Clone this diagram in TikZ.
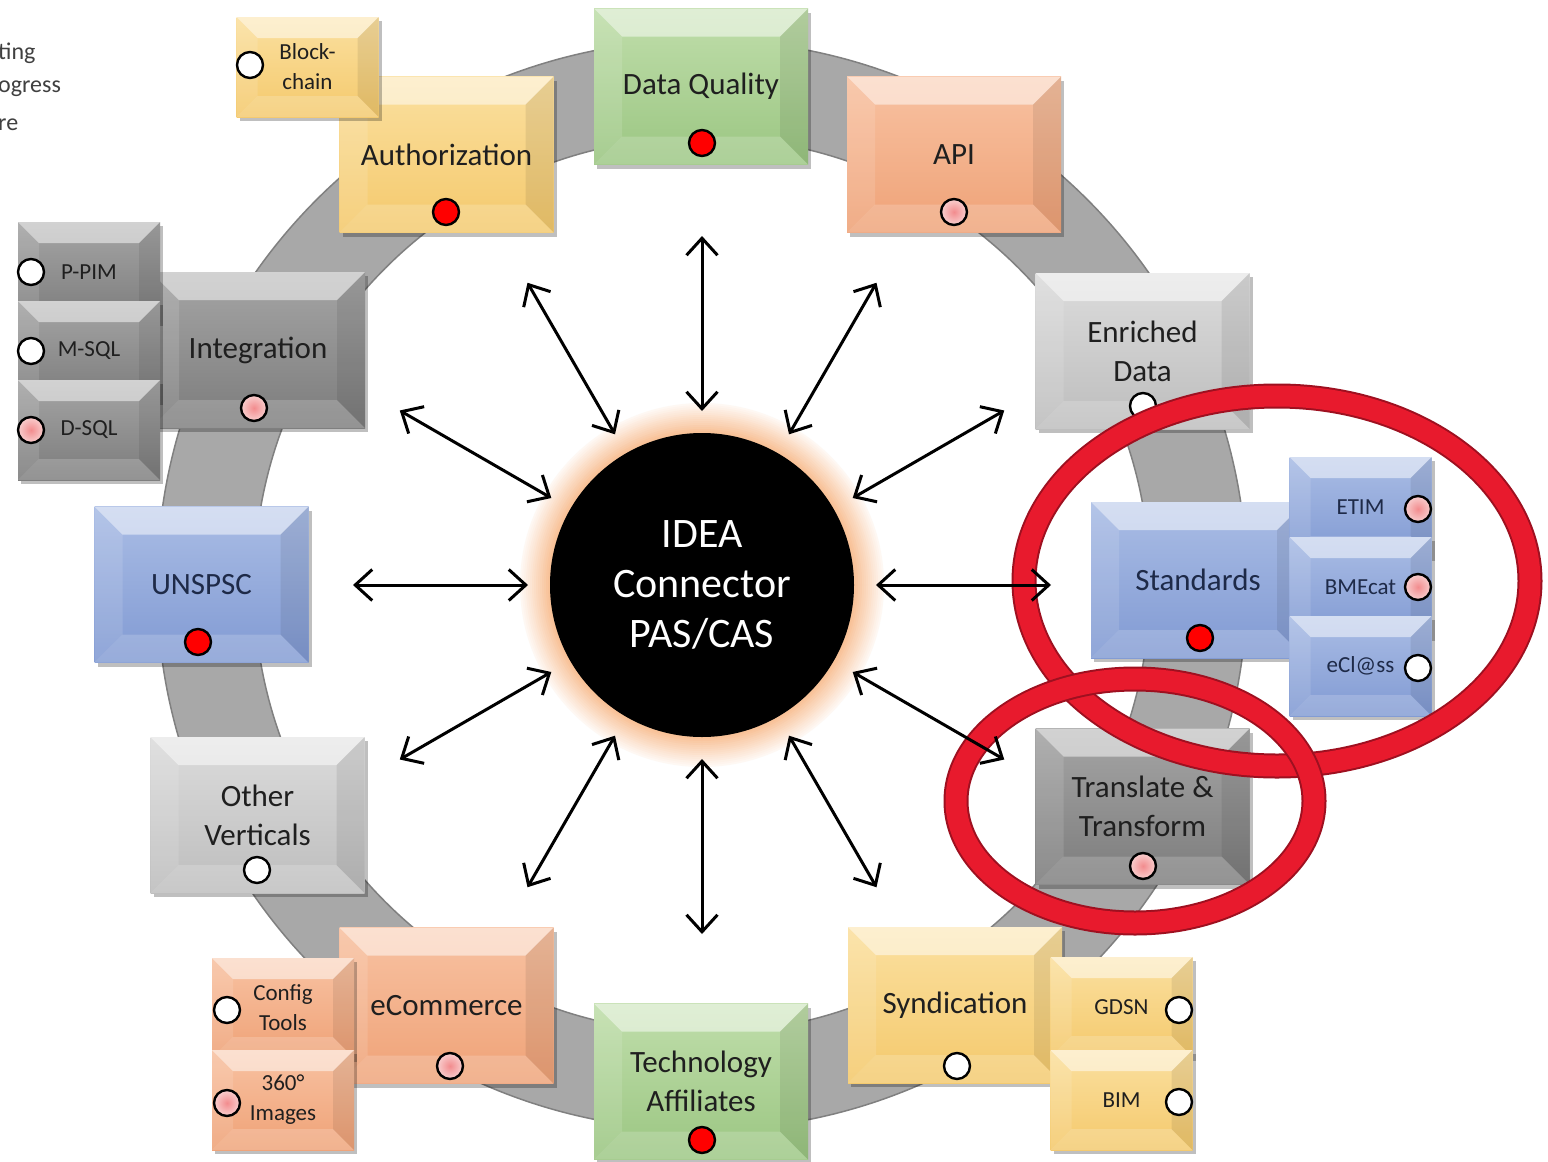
\documentclass[tikz,border=0pt]{standalone}
\usepackage{fontspec}
\setmainfont{Carlito}
\usetikzlibrary{arrows.meta,shadows,calc}

\definecolor{ringgrey}{HTML}{A8A8A8}
\definecolor{ringedge}{HTML}{808080}
\definecolor{glowc}{HTML}{F5A66A}
\definecolor{yelT}{HTML}{FBE0A0}
\definecolor{yelB}{HTML}{F4C96C}
\definecolor{grnT}{HTML}{C0DEAB}
\definecolor{grnB}{HTML}{9BC682}
\definecolor{salT}{HTML}{F8C2A2}
\definecolor{salB}{HTML}{EFA277}
\definecolor{bluT}{HTML}{AABDE5}
\definecolor{bluB}{HTML}{819AD3}
\definecolor{lgrT}{HTML}{DCDCDC}
\definecolor{lgrB}{HTML}{BDBDBD}
\definecolor{dgrT}{HTML}{A5A5A5}
\definecolor{dgrB}{HTML}{7C7C7C}
\definecolor{txtdark}{HTML}{1F1F1F}
\definecolor{txtblue}{HTML}{1E2A48}
\definecolor{dotred}{HTML}{FF0000}
\definecolor{pinkin}{HTML}{F28C8E}
\definecolor{pinkout}{HTML}{F9CFCF}
\definecolor{annotred}{HTML}{E81A2D}
\definecolor{annotdark}{HTML}{9E1020}
\definecolor{legendtxt}{HTML}{404040}

\newcommand{\bevelpic}[1]{%
  \path (path picture bounding box.north west) coordinate (bNW)
        (path picture bounding box.north east) coordinate (bNE)
        (path picture bounding box.south west) coordinate (bSW)
        (path picture bounding box.south east) coordinate (bSE);
  \path ([xshift=#1,yshift=-#1]bNW) coordinate (iNW)
        ([xshift=-#1,yshift=-#1]bNE) coordinate (iNE)
        ([xshift=#1,yshift=#1]bSW) coordinate (iSW)
        ([xshift=-#1,yshift=#1]bSE) coordinate (iSE);
  \fill[white,opacity=.50] (bNW)--(bNE)--(iNE)--(iNW)--cycle;
  \fill[white,opacity=.12] (bNW)--(iNW)--(iSW)--(bSW)--cycle;
  \fill[black,opacity=.08] (bNE)--(bSE)--(iSE)--(iNE)--cycle;
  \fill[white,opacity=.18] (bSW)--(iSW)--(iSE)--(bSE)--cycle;
}

\begin{document}
\begin{tikzpicture}[x=1pt,y=-1pt,
  box/.style={draw=none, inner sep=0pt, align=center,
    drop shadow={shadow xshift=3pt, shadow yshift=-4pt, opacity=.25, fill=black}},
  mainbox/.style={box, minimum width=214pt, minimum height=156pt,
    font=\fontsize{31}{39}\selectfont, path picture={\bevelpic{28pt}}},
  sidebox/.style={box, minimum width=142pt, minimum height=100pt,
    font=\fontsize{23}{30}\selectfont, path picture={\bevelpic{21pt}}},
  yel/.style={top color=yelT, bottom color=yelB, text=txtdark},
  grn/.style={top color=grnT, bottom color=grnB, text=txtdark},
  sal/.style={top color=salT, bottom color=salB, text=txtdark},
  blu/.style={top color=bluT, bottom color=bluB, text=txtblue},
  lgr/.style={top color=lgrT, bottom color=lgrB, text=txtdark},
  dgr/.style={top color=dgrT, bottom color=dgrB, text=txtdark},
  dot/.style={circle, draw=black, line width=2.4pt, minimum size=26pt, inner sep=0pt},
  dred/.style={dot, fill=dotred},
  dpink/.style={dot, inner color=pinkin, outer color=pinkout},
  dwhite/.style={dot, fill=white},
  biarrow/.style={{Straight Barb[length=17pt,width=31pt]}-{Straight Barb[length=17pt,width=31pt]}, line width=3pt, black},
  legend/.style={anchor=west, inner sep=0pt, text=legendtxt, font=\fontsize{24}{28}\selectfont},
  annot/.style={line width=21pt, draw=annotred},
  annotrim/.style={line width=25pt, draw=annotdark}
]
\useasboundingbox (0,0) rectangle (1548,1162);
\fill[white] (0,0) rectangle (1548,1162);

% legend (cut off)
\node[legend] (lg1) at (-2,53) {ting};
\node[legend] (lg2) at (-2,89) {ogress};
\node[legend] (lg3) at (-2,125) {re};

% ring
\fill[ringgrey, draw=ringedge, line width=1.5pt, even odd rule]
  (702,585) circle[radius=545] (702,585) circle[radius=448];

% top-left
\node[mainbox, yel] (auth) at (446.5,154.5) {Authorization};
\node[dred] (authd) at (446,212) {};
\node[sidebox, yel] (bc) at (307.5,67) {Block-\\chain};
\node[dwhite] (bcd) at (250,65) {};

% top
\node[mainbox, grn] (dq) at (701,86.5) {Data Quality};
\node[dred] (dqd) at (702,143) {};

\node[mainbox, sal] (api) at (954,154.5) {API};
\node[dpink] (apid) at (954,212) {};

\node[mainbox, lgr] (enr) at (1142.5,351) {Enriched\\Data};
\node[dwhite] (enrd) at (1143,406) {};

% standards group
\node[mainbox, blu] (std) at (1198,580) {Standards};
\node[dred] (stdd) at (1200,638) {};
\node[sidebox, blu] (etim) at (1360.5,507) {ETIM};
\node[dpink] (etimd) at (1418,509) {};
\node[sidebox, blu] (bme) at (1360.5,587) {BMEcat};
\node[dpink] (bmed) at (1418,587) {};
\node[sidebox, blu] (ecl) at (1360.5,666) {eCl@ss};
\node[dwhite] (ecld) at (1418,668) {};

\node[mainbox, dgr] (trans) at (1142.5,806.5) {Translate \&\\Transform};
\node[dpink] (transd) at (1143,866) {};

% syndication group
\node[mainbox, yel] (synd) at (955,1005) {Syndication};
\node[dwhite] (syndd) at (957,1066) {};
\node[sidebox, yel] (gdsn) at (1121.5,1007) {GDSN};
\node[dwhite] (gdsnd) at (1179,1010) {};
\node[sidebox, yel] (bim) at (1121.5,1100) {BIM};
\node[dwhite] (bimd) at (1179,1102) {};

\node[mainbox, grn] (tech) at (701,1081.5) {Technology\\Affiliates};
\node[dred] (techd) at (702,1140) {};

% ecommerce group
\node[mainbox, sal] (ecom) at (446.5,1005.5) {eCommerce};
\node[dpink] (ecomd) at (450,1066) {};
\node[sidebox, sal] (cfg) at (283,1008) {Config\\Tools};
\node[dwhite] (cfgd) at (227,1010) {};
\node[sidebox, sal] (img) at (283,1100) {360°\\Images};
\node[dpink] (imgd) at (227,1103) {};

\node[mainbox, lgr] (other) at (257.5,815) {Other\\Verticals};
\node[dwhite] (otherd) at (257,870) {};

\node[mainbox, blu] (unspsc) at (201.5,584.5) {UNSPSC};
\node[dred] (unspscd) at (198,642) {};

% integration group
\node[mainbox, dgr] (integ) at (258,350) {Integration};
\node[dpink] (integd) at (254,408) {};
\node[sidebox, dgr] (ppim) at (89,272) {P-PIM};
\node[dwhite] (ppimd) at (31,272) {};
\node[sidebox, dgr] (msql) at (89,351) {M-SQL};
\node[dwhite] (msqld) at (31,351) {};
\node[sidebox, dgr] (dsql) at (89,430) {D-SQL};
\node[dpink] (dsqld) at (31,430) {};

% red annotation ellipses
\draw[annotrim] (1277,581) ellipse[x radius=253, y radius=185];
\draw[annot] (1277,581) ellipse[x radius=253, y radius=185];
\draw[annotrim] (1135,801) ellipse[x radius=179, y radius=122];
\draw[annot] (1135,801) ellipse[x radius=179, y radius=122];

% center glow
\foreach \i in {0,...,14} {
  \pgfmathtruncatemacro{\pc}{8+\i*4.4}
  \fill[glowc!\pc!white] (702,585) circle[radius=182-2*\i];
}
\node[circle, fill=black, minimum size=304pt, inner sep=0pt, text=white, align=center,
      font=\fontsize{42}{50}\selectfont] (core) at (702,585) {IDEA\\Connector\\PAS/CAS};

% arrows
\foreach \a in {0,30,...,330} {
  \coordinate (ai\a) at ($(core.center)+(\a:174)$);
  \coordinate (ao\a) at ($(core.center)+(\a:349)$);
  \draw[biarrow] (ai\a) -- (ao\a);
}
\end{tikzpicture}
\end{document}
